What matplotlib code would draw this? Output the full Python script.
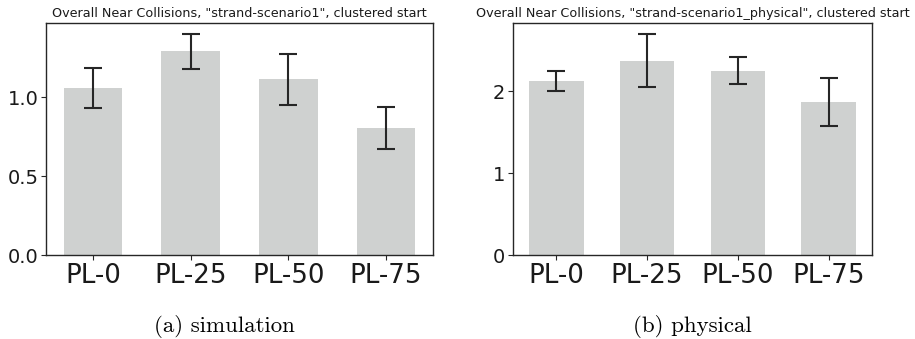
import matplotlib
matplotlib.use("Agg")
import matplotlib.pyplot as plt
import numpy as np

categories = ["PL-0", "PL-25", "PL-50", "PL-75"]
sim_means = [1.063, 1.292, 1.116, 0.806]
sim_errs = [0.127, 0.110, 0.161, 0.134]
phys_means = [2.125, 2.37, 2.25, 1.87]
phys_errs = [0.125, 0.325, 0.163, 0.295]

titles = ['Overall Near Collisions, "strand-scenario1", clustered start',
          'Overall Near Collisions, "strand-scenario1_physical", clustered start']
captions = ["(a) simulation", "(b) physical"]

W, H = 915, 339
fig = plt.figure(figsize=(W / 100, H / 100), dpi=100)

bar_color = "#cfd1d0"
err_color = "#262626"

def px_axes(x0, y0, x1, y1):
    return fig.add_axes([x0 / W, 1 - y1 / H, (x1 - x0) / W, (y1 - y0) / H])

ax1 = px_axes(46, 23, 433, 255.3)
ax2 = px_axes(512.7, 23, 872.3, 255.3)

for ax, means, errs, title in [(ax1, sim_means, sim_errs, titles[0]),
                               (ax2, phys_means, phys_errs, titles[1])]:
    x = np.arange(len(categories))
    ax.bar(x, means, width=0.6, color=bar_color, zorder=1)
    ax.errorbar(x, means, yerr=errs, fmt="none", ecolor=err_color,
                elinewidth=1.5, capsize=6.5, capthick=1.5, zorder=2)
    ax.set_xticks(x)
    ax.set_xticklabels(categories, fontsize=18.8)
    ax.tick_params(axis="y", labelsize=14, length=3.5, width=0.8, pad=2, colors="#262626")
    ax.tick_params(axis="x", length=3.5, width=0.8, pad=2, colors="#262626")
    for lab in ax.get_xticklabels() + ax.get_yticklabels():
        lab.set_color("#1a1a1a")
    ax.set_title(title, fontsize=9.2, pad=4, color="#1a1a1a")
    for s in ax.spines.values():
        s.set_color("#262626")
        s.set_linewidth(1.0)

ax1.set_yticks([0.0, 0.5, 1.0])
ax1.set_yticklabels(["0.0", "0.5", "1.0"])
ax2.set_yticks([0, 1, 2])

fig.text(224 / W, 1 - 331.5 / H, captions[0], ha="center", va="baseline",
         fontsize=16.5, family="cmr10")
fig.text(692.5 / W, 1 - 331.5 / H, captions[1], ha="center", va="baseline",
         fontsize=16.5, family="cmr10")

fig.savefig("out.png", dpi=100)
